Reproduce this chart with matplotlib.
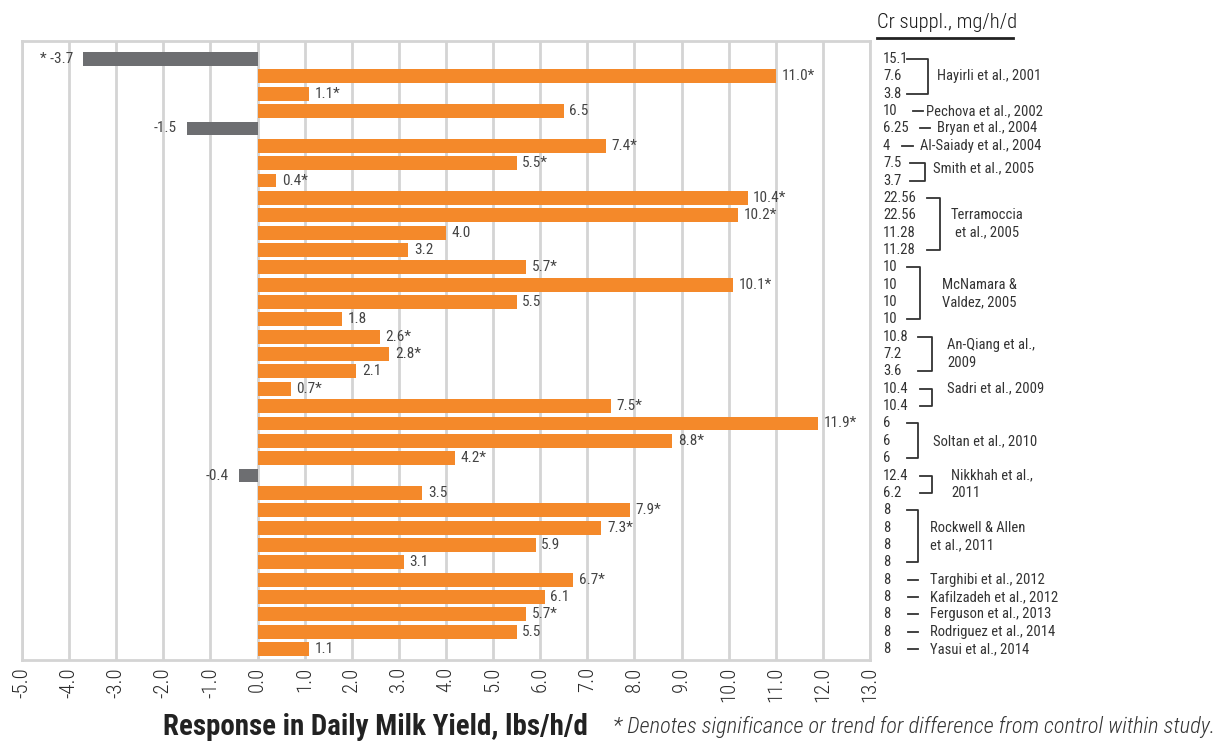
import matplotlib
matplotlib.use("Agg")
import matplotlib.pyplot as plt
import matplotlib.transforms as mtransforms
from matplotlib import font_manager

# ---------------- data ----------------
responses = [-3.7, 11.0, 1.1, 6.5, -1.5, 7.4, 5.5, 0.4, 10.4, 10.2, 4.0, 3.2,
             5.7, 10.1, 5.5, 1.8, 2.6, 2.8, 2.1, 0.7, 7.5, 11.9, 8.8, 4.2,
             -0.4, 3.5, 7.9, 7.3, 5.9, 3.1, 6.7, 6.1, 5.7, 5.5, 1.1]
significant = [1, 1, 1, 0, 0, 1, 1, 1, 1, 1, 0, 0,
               1, 1, 0, 0, 1, 1, 0, 1, 1, 1, 1, 1,
               0, 0, 1, 1, 0, 0, 1, 0, 1, 0, 0]
cr_doses = ["15.1", "7.6", "3.8", "10", "6.25", "4", "7.5", "3.7",
            "22.56", "22.56", "11.28", "11.28", "10", "10", "10", "10",
            "10.8", "7.2", "3.6", "10.4", "10.4", "6", "6", "6",
            "12.4", "6.2", "8", "8", "8", "8", "8", "8", "8", "8", "8"]
studies = ["Hayirli et al., 2001", "Pechova et al., 2002", "Bryan et al., 2004",
           "Al-Saiady et al., 2004", "Smith et al., 2005", "Terramoccia\net al., 2005",
           "McNamara &\nValdez, 2005", "An-Qiang et al.,\n2009", "Sadri et al., 2009",
           "Soltan et al., 2010", "Nikkhah et al.,\n2011", "Rockwell & Allen\net al., 2011",
           "Targhibi et al., 2012", "Kafilzadeh et al., 2012", "Ferguson et al., 2013",
           "Rodriguez et al., 2014", "Yasui et al., 2014"]
study_sizes = [3, 1, 1, 1, 2, 4, 4, 3, 2, 3, 2, 4, 1, 1, 1, 1, 1]
x_ticks = list(range(-5, 14))

# ---------------- layout (pixels) ----------------
study_layout = [
    (907, 928, 937, [1.0], "left"),
    (913, 923, 926, [0.0], "left"),
    (920, 930, 937, [0.0], "left"),
    (902, 913, 920, [0.0], "left"),
    (910, 925, 933, [0.3], "left"),
    (927, 940, 987, [1.0, 2.0], "center"),
    (907, 920, 942, [1.0, 2.0], "left"),
    (918, 932, 947, [0.5, 1.5], "left"),
    (920, 932, 947, [0.0], "left"),
    (907, 918, 933, [1.0], "left"),
    (920, 932, 951, [0.0, 1.0], "left"),
    (907, 918, 930, [1.0, 2.0], "left"),
    (908, 918, 930, [0.0], "left"),
    (908, 918, 930, [0.0], "left"),
    (908, 918, 930, [0.0], "left"),
    (908, 918, 930, [0.0], "left"),
    (908, 918, 930, [0.0], "left"),
]

names = {f.name for f in font_manager.fontManager.ttflist}
FONT = "DejaVu Sans"
for cand in ["Roboto Condensed", "Archivo Narrow", "Liberation Sans Narrow",
             "IBM Plex Sans Condensed", "Open Sans Condensed", "Fira Sans Condensed",
             "PT Sans Narrow"]:
    if cand in names:
        FONT = cand
        break
plt.rcParams["font.family"] = [FONT, "DejaVu Sans"]
LIGHT = "light"

W, H = 1225, 743
fig = plt.figure(figsize=(W / 100, H / 100), dpi=100)
ax = fig.add_axes([22 / W, 1 - 660 / H, (870 - 22) / W, (660 - 41) / H])

ORANGE = "#F4892A"
GRAY = "#6D6E71"
GRID = "#D4D4D4"
TXT = "#444444"

n = len(responses)
ys = list(range(n))
colors = [ORANGE if v >= 0 else GRAY for v in responses]
ax.barh(ys, responses, height=0.8, color=colors, zorder=3)

for y, v, s in zip(ys, responses, significant):
    if v >= 0:
        lab = f"{v:.1f}" + ("*" if s else "")
        ax.annotate(lab, (v, y), xytext=(4, 0), textcoords="offset points",
                    ha="left", va="center", fontsize=11, color=TXT)
    else:
        lab = ("* " if s else "") + f"{v:.1f}"
        ax.annotate(lab, (v, y), xytext=(-7, 0), textcoords="offset points",
                    ha="right", va="center", fontsize=11, color=TXT)

ax.set_xlim(-5, 13)
ax.set_ylim(n - 1 + 0.63, -1.04)
ax.set_xticks(x_ticks)
ax.set_xticklabels([f"{t:.1f}" for t in x_ticks], rotation=90, fontsize=15,
                   color="#2A2A2A", fontweight=LIGHT)
ax.set_yticks([])
ax.tick_params(axis="x", length=0, pad=5)
ax.grid(axis="x", color=GRID, linewidth=2, zorder=0)
for sp in ax.spines.values():
    sp.set_color(GRID)
    sp.set_linewidth(2)

# ---------------- right-hand annotation ----------------
trans = mtransforms.blended_transform_factory(fig.transFigure, ax.transData)
fx = lambda px: px / W

fig.text(fx(877), 1 - 22 / H, "Cr suppl., mg/h/d", ha="left", va="center",
         fontsize=14.9, color="#1A1A1A", fontweight=LIGHT)
fig.add_artist(plt.Line2D([fx(877), fx(1013)], [1 - 38 / H, 1 - 38 / H],
                          transform=fig.transFigure, color="#222222", linewidth=2))

for y, d in zip(ys, cr_doses):
    ax.text(fx(883), y, d, transform=trans, ha="left", va="center",
            fontsize=10.5, color="#333333", clip_on=False)

row = 0
LC = "#333333"
for name, size, (x0, x1, tx, offs, ha) in zip(studies, study_sizes, study_layout):
    if size == 1:
        ax.plot([fx(x0), fx(x1)], [row, row], transform=trans, color=LC,
                linewidth=1.3, clip_on=False)
    else:
        top, bot = row, row + size - 1
        ax.plot([fx(x0), fx(x1), fx(x1), fx(x0)], [top, top, bot, bot],
                transform=trans, color=LC, linewidth=1.3, clip_on=False)
    for line, off in zip(name.split("\n"), offs):
        ax.text(fx(tx), row + off, line, transform=trans, ha=ha, va="center",
                fontsize=10.5, color="#333333", clip_on=False)
    row += size

# ---------------- footer ----------------
fig.text(fx(163), 1 - 727 / H, "Response in Daily Milk Yield, lbs/h/d", ha="left",
         va="center", fontsize=20.9, fontweight="bold", color="#222222")
fig.text(fx(613), 1 - 727 / H,
         "* Denotes significance or trend for difference from control within study.",
         ha="left", va="center", fontsize=16.1, style="italic", color="#333333",
         fontweight=LIGHT)

fig.savefig("out.png", dpi=100)
